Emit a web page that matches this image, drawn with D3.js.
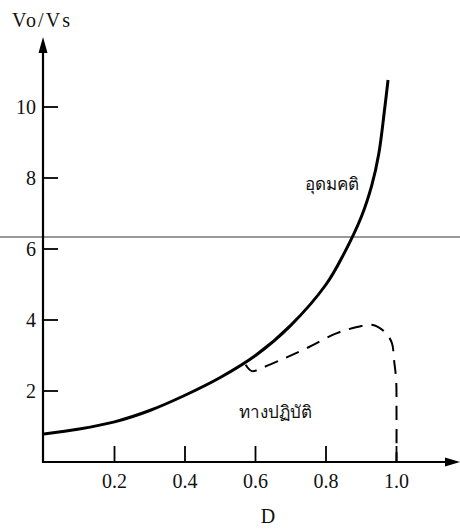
<!DOCTYPE html>
<html>
<head>
<meta charset="utf-8">
<script src="https://cdn.jsdelivr.net/npm/d3@7"></script>
<style>
  body { margin: 0; background: #fff; }
  svg text { font-family: "Liberation Serif", "DejaVu Serif", serif; fill: #111; }
</style>
</head>
<body>
<svg id="chart" width="460" height="529"></svg>
<script>
const width = 460;
const height = 529;

// values
const idealD = [0, 0.1, 0.2, 0.3, 0.4, 0.5, 0.6, 0.7, 0.8, 0.85, 0.9, 0.93, 0.95, 0.967, 0.976];
const idealV = [0.79, 0.93, 1.13, 1.45, 1.88, 2.38, 3.0, 3.85, 5.0, 5.85, 6.9, 7.8, 8.7, 10.0, 10.76];

const practD = [0.572, 0.59, 0.618, 0.684, 0.746, 0.831, 0.888, 0.933, 0.967, 0.987, 0.993, 0.999, 1.0, 1.0];
const practV = [2.74, 2.56, 2.65, 2.93, 3.21, 3.63, 3.80, 3.86, 3.66, 3.35, 2.87, 2.31, 1.46, 0];

const xTicks = [0.2, 0.4, 0.6, 0.8, 1.0];
const yTicks = [2, 4, 6, 8, 10];

const svg = d3.select("#chart");

const x = d3.scaleLinear().domain([0, 1]).range([44, 396.5]);
const y = d3.scaleLinear().domain([0, 2]).range([462, 391]);

const idealLine = d3.line()
    .x(d => x(d[0]))
    .y(d => y(d[1]))
    .curve(d3.curveCatmullRom.alpha(0.5));

const practLine = d3.line()
    .x(d => x(d[0]))
    .y(d => y(d[1]))
    .curve(d3.curveCatmullRom);

// scan line across the page
svg.append("line")
    .attr("x1", 0).attr("x2", width)
    .attr("y1", 237).attr("y2", 237)
    .attr("stroke", "#333")
    .attr("stroke-width", 1);

// axes
svg.append("line")
    .attr("x1", 43).attr("x2", 43)
    .attr("y1", 463).attr("y2", 50)
    .attr("stroke", "#000").attr("stroke-width", 2.2);
svg.append("path")
    .attr("d", "M43,37 L38.5,53 L47.5,53 Z")
    .attr("fill", "#000");

svg.append("line")
    .attr("x1", 42).attr("x2", 448)
    .attr("y1", 462).attr("y2", 462)
    .attr("stroke", "#000").attr("stroke-width", 2);
svg.append("path")
    .attr("d", "M460,462 L445,457.5 L445,466.5 Z")
    .attr("fill", "#000");

svg.append("g")
    .selectAll("line")
    .data(yTicks)
    .enter()
    .append("line")
    .attr("x1", 43).attr("x2", 58)
    .attr("y1", d => y(d)).attr("y2", d => y(d))
    .attr("stroke", "#000").attr("stroke-width", 1.8);

svg.append("g")
    .selectAll("text")
    .data(yTicks)
    .enter()
    .append("text")
    .attr("x", 36)
    .attr("y", d => y(d) + 7)
    .attr("text-anchor", "end")
    .style("font-size", "20px")
    .text(d => d);

svg.append("g")
    .selectAll("line")
    .data(xTicks)
    .enter()
    .append("line")
    .attr("x1", d => x(d)).attr("x2", d => x(d))
    .attr("y1", 462).attr("y2", 446)
    .attr("stroke", "#000").attr("stroke-width", 1.8);

svg.append("g")
    .selectAll("text")
    .data(xTicks)
    .enter()
    .append("text")
    .attr("x", d => x(d))
    .attr("y", 488)
    .attr("text-anchor", "middle")
    .style("font-size", "20px")
    .text(d => d.toFixed(1));

// axis titles
svg.append("text")
    .attr("x", 12).attr("y", 27)
    .attr("textLength", 58)
    .style("font-size", "20px")
    .text("Vo/Vs");
svg.append("text")
    .attr("x", 268).attr("y", 523)
    .attr("text-anchor", "middle")
    .style("font-size", "20px")
    .text("D");

// curves
svg.append("path")
    .datum(d3.zip(idealD, idealV))
    .attr("d", idealLine)
    .attr("fill", "none")
    .attr("stroke", "#000")
    .attr("stroke-width", 3);

svg.append("path")
    .datum(d3.zip(practD, practV))
    .attr("d", practLine)
    .attr("fill", "none")
    .attr("stroke", "#000")
    .attr("stroke-width", 2)
    .attr("stroke-dasharray", "14,9");

// curve labels
svg.append("text")
    .attr("x", 305).attr("y", 190)
    .style("font-size", "17px")
    .style("font-family", "'Noto Sans', 'DejaVu Sans', sans-serif")
    .text("อุดมคติ");
svg.append("text")
    .attr("x", 239).attr("y", 418)
    .style("font-size", "17px")
    .style("font-family", "'Noto Sans', 'DejaVu Sans', sans-serif")
    .text("ทางปฏิบัติ");
</script>
</body>
</html>
